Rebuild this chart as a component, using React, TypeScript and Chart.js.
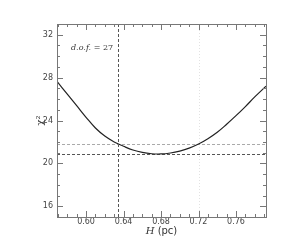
import React, { useEffect, useRef } from "react";
import { Chart, registerables } from "chart.js";

Chart.register(...registerables);

const hValues = [0.569, 0.58, 0.59, 0.6, 0.61, 0.62, 0.63, 0.64, 0.65, 0.66, 0.67, 0.68, 0.69, 0.7, 0.71, 0.72, 0.73, 0.74, 0.75, 0.76, 0.77, 0.78, 0.792];
const chi2Values = [27.65, 26.45, 25.38, 24.3, 23.3, 22.55, 22.0, 21.6, 21.25, 21.02, 20.9, 20.88, 20.97, 21.15, 21.42, 21.8, 22.3, 22.9, 23.65, 24.45, 25.3, 26.2, 27.2];
const xTickValues = [0.6, 0.64, 0.68, 0.72, 0.76];
const xTickLabels = ["0.60", "0.64", "0.68", "0.72", "0.76"];
const yTickValues = [16, 20, 24, 28, 32];
const xRange = [0.569, 0.792];
const yRange = [15, 33];
const chi2Min = 20.87;
const chi2MinPlusOne = 21.85;
const hBest = 0.634;
const hGuide = 0.72;
const dofText = "27";

export default function App() {
  const ref = useRef<HTMLCanvasElement | null>(null);
  useEffect(() => {
    if (!ref.current) return;
    const decor = {
      id: "decor",
      beforeDatasetsDraw(chart: any) {
        const { ctx, chartArea: a, scales } = chart;
        const x = scales.x, y = scales.y;
        ctx.save();
        ctx.lineWidth = 1;
        ctx.strokeStyle = "#e2e2e2";
        ctx.setLineDash([1, 2]);
        let px = Math.round(x.getPixelForValue(hGuide)) + 0.5;
        ctx.beginPath(); ctx.moveTo(px, a.top); ctx.lineTo(px, a.bottom); ctx.stroke();
        ctx.strokeStyle = "#555";
        ctx.setLineDash([3, 2]);
        px = Math.round(x.getPixelForValue(hBest)) + 0.5;
        ctx.beginPath(); ctx.moveTo(px, a.top); ctx.lineTo(px, a.bottom); ctx.stroke();
        ctx.strokeStyle = "#aaa";
        ctx.setLineDash([3, 2]);
        let py = Math.round(y.getPixelForValue(chi2MinPlusOne)) + 0.5;
        ctx.beginPath(); ctx.moveTo(a.left, py); ctx.lineTo(a.right, py); ctx.stroke();
        ctx.strokeStyle = "#555";
        ctx.setLineDash([3, 2]);
        py = Math.round(y.getPixelForValue(chi2Min)) + 0.5;
        ctx.beginPath(); ctx.moveTo(a.left, py); ctx.lineTo(a.right, py); ctx.stroke();
        ctx.restore();
      },
      afterDraw(chart: any) {
        const { ctx, chartArea: a, scales } = chart;
        const x = scales.x, y = scales.y;
        ctx.save();
        ctx.strokeStyle = "#777";
        ctx.lineWidth = 1;
        ctx.strokeRect(Math.round(a.left) + 0.5, Math.round(a.top) + 0.5, Math.round(a.right - a.left), Math.round(a.bottom - a.top));
        for (let i = 57; i <= 79; i++) {
          const v = i / 100;
          const major = i % 4 === 0;
          const len = major ? 6 : 3;
          const p = Math.round(x.getPixelForValue(v)) + 0.5;
          ctx.beginPath();
          ctx.moveTo(p, a.bottom); ctx.lineTo(p, a.bottom - len);
          ctx.moveTo(p, a.top); ctx.lineTo(p, a.top + len);
          ctx.stroke();
        }
        for (let v = 15; v <= 33; v++) {
          const major = v % 4 === 0;
          const len = major ? 6 : 3;
          const p = Math.round(y.getPixelForValue(v)) + 0.5;
          ctx.beginPath();
          ctx.moveTo(a.left, p); ctx.lineTo(a.left + len, p);
          ctx.moveTo(a.right, p); ctx.lineTo(a.right - len, p);
          ctx.stroke();
        }
        ctx.fillStyle = "#333";
        ctx.textBaseline = "middle";
        ctx.textAlign = "left";
        ctx.font = "italic 8px 'DejaVu Serif'";
        const t1 = "d.o.f.";
        ctx.fillText(t1, 71, 48);
        const w1 = ctx.measureText(t1).width;
        ctx.font = "8px 'DejaVu Serif'";
        ctx.fillText(" = " + dofText, 71 + w1, 48);
        ctx.font = "italic 10px 'DejaVu Serif'";
        const hT = "H";
        const hw = ctx.measureText(hT).width;
        ctx.font = "10px 'DejaVu Sans'";
        const rest = " (pc)";
        const rw = ctx.measureText(rest).width;
        const sx = (a.left + a.right) / 2 - (hw + rw) / 2;
        ctx.font = "italic 10px 'DejaVu Serif'";
        ctx.fillText(hT, sx, 231);
        ctx.font = "10px 'DejaVu Sans'";
        ctx.fillText(rest, sx + hw, 231);
        ctx.save();
        ctx.translate(40, (a.top + a.bottom) / 2);
        ctx.rotate(-Math.PI / 2);
        ctx.textAlign = "center";
        ctx.font = "10px 'DejaVu Serif'";
        ctx.fillText("χ²", 0, 0);
        ctx.restore();
        ctx.restore();
      },
    };
    const chart = new Chart(ref.current, {
      type: "scatter",
      data: {
        datasets: [
          {
            data: hValues.map((h, i) => ({ x: h, y: chi2Values[i] })),
            showLine: true,
            borderColor: "#222",
            borderWidth: 1.2,
            pointRadius: 0,
            tension: 0.4,
          },
        ],
      },
      options: {
        animation: false,
        responsive: false,
        layout: { padding: { left: 0, right: 35, top: 24, bottom: 0 } },
        plugins: { legend: { display: false }, tooltip: { enabled: false } },
        scales: {
          x: {
            type: "linear",
            min: xRange[0],
            max: xRange[1],
            grid: { display: false, drawTicks: false },
            border: { display: false },
            afterBuildTicks: (s: any) => { s.ticks = xTickValues.map((v) => ({ value: v })); },
            afterFit: (s: any) => { s.height = 24; },
            ticks: {
              padding: 0,
              color: "#444",
              font: { family: "DejaVu Sans", size: 8 },
              maxRotation: 0,
              callback: (v: any) => { const i = xTickValues.indexOf(v); return i >= 0 ? xTickLabels[i] : ""; },
            },
          },
          y: {
            type: "linear",
            min: yRange[0],
            max: yRange[1],
            grid: { display: false, drawTicks: false },
            border: { display: false },
            afterBuildTicks: (s: any) => { s.ticks = yTickValues.map((v) => ({ value: v })); },
            afterFit: (s: any) => { s.width = 57; },
            ticks: {
              padding: 4,
              color: "#444",
              font: { family: "DejaVu Sans", size: 8 },
              callback: (v: any) => String(v),
            },
          },
        },
      },
      plugins: [decor],
    } as any);
    return () => chart.destroy();
  }, []);
  return (
    <div style={{ position: "absolute", left: 0, top: 0, width: 301, height: 241, background: "#fff" }}>
      <canvas ref={ref} width={301} height={241} style={{ display: "block", width: 301, height: 241 }} />
    </div>
  );
}
